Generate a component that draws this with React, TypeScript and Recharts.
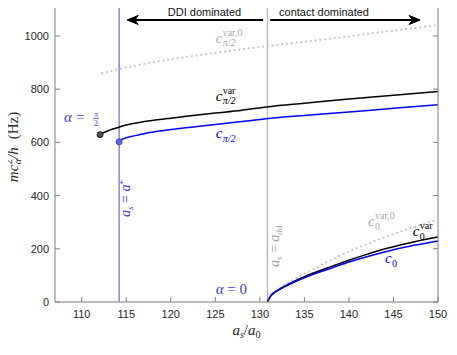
import React from "react";
import { LineChart, Line, XAxis, YAxis, ReferenceLine, ReferenceDot } from "recharts";

// axis ticks
const xTicks = [110, 115, 120, 125, 130, 135, 140, 145, 150];
const yTicks = [0, 200, 400, 600, 800, 1000];

// special scattering lengths
const aStar = 114.2;
const aDd = 130.85;

// alpha = pi/2 branch
const xPiHalf = [114.2, 114.4, 114.8, 115.4, 116.5, 117.7, 120, 122, 125, 128, 131, 135, 140, 145, 150];
const cPiHalf = [602, 609, 615, 621, 629, 637, 648, 656, 667, 678, 690, 701, 714, 728, 741];

const xVarPiHalf = [112.06, 112.5, 113, 114, 115, 116, 117.7, 120, 122, 125, 128, 131, 135, 140, 145, 150];
const cVarPiHalf = [629, 637, 644, 655, 665, 672, 681, 691, 699, 710, 721, 734, 747, 763, 777, 791];

const xVar0PiHalf = [112.3, 114, 116, 118, 120, 123, 126, 129, 132, 135, 138, 141, 144, 147, 150];
const cVar0PiHalf = [860, 874, 888, 901, 912, 927, 941, 954, 966, 978, 990, 1003, 1016, 1028, 1041];

// alpha = 0 branch
const xZero = [130.85, 131.2, 131.6, 132, 133, 134, 135, 136, 138, 140, 142, 144, 146, 148, 150];
const cZero = [0, 22, 34, 43, 61, 77, 91, 104, 127, 150, 170, 188, 204, 217, 229];
const cVarZero = [0, 22, 35, 44, 63, 80, 95, 109, 133, 157, 179, 199, 216, 231, 244];
const cVar0Zero = [0, 23, 36, 46, 68, 88, 106, 123, 158, 190, 217, 243, 267, 289, 309];

const zip = (xs: number[], ys: number[]) => xs.map((x, i) => ({ x, y: ys[i] }));

const AXIS = "#7f7f7f";
const INK = "#262626";
const BLUE = "#0000ff";
const SANS = "'Liberation Sans', Arial, Helvetica, sans-serif";
const SERIF = "'Liberation Serif', 'Times New Roman', serif";

const BottomTick = (p: any) => (
  <g>
    <line x1={p.x} y1={p.y} x2={p.x} y2={p.y - 5} stroke={AXIS} />
    <text x={p.x} y={p.y + 16} textAnchor="middle" fontSize={11} fontFamily={SANS} fill={INK}>
      {p.payload.value}
    </text>
  </g>
);
const LeftTick = (p: any) => (
  <g>
    <line x1={p.x} y1={p.y} x2={p.x + 5} y2={p.y} stroke={AXIS} />
    <text x={p.x - 6} y={p.y + 4} textAnchor="end" fontSize={11} fontFamily={SANS} fill={INK}>
      {p.payload.value}
    </text>
  </g>
);
const TopTick = (p: any) => <line x1={p.x} y1={p.y} x2={p.x} y2={p.y + 5} stroke={AXIS} />;
const RightTick = (p: any) => <line x1={p.x} y1={p.y} x2={p.x - 5} y2={p.y} stroke={AXIS} />;

const Arrow = (p: any) => {
  const { x1, y1, x2, y2 } = p;
  const len = Math.hypot(x2 - x1, y2 - y1) || 1;
  const ux = (x2 - x1) / len;
  const uy = (y2 - y1) / len;
  const L = 11;
  const W = 4.5;
  const bx = x2 - ux * L;
  const by = y2 - uy * L;
  const mx = x2 - ux * L * 0.7;
  const my = y2 - uy * L * 0.7;
  const pts = [
    [x2, y2],
    [bx - uy * W, by + ux * W],
    [mx, my],
    [bx + uy * W, by - ux * W],
  ]
    .map((q) => q.join(","))
    .join(" ");
  return (
    <g>
      <line x1={x1} y1={y1} x2={mx} y2={my} stroke="#000" strokeWidth={2} />
      <polygon points={pts} fill="#000" stroke="#000" strokeWidth={1} strokeLinejoin="miter" />
    </g>
  );
};

// text annotation anchored at a data point
const note = (key: string, x: number, y: number, draw: (cx: number, cy: number) => React.ReactNode) => (
  <ReferenceDot
    key={key}
    x={x}
    y={y}
    r={0}
    fill="none"
    stroke="none"
    ifOverflow="visible"
    label={(p: any) => <g>{draw(p.viewBox?.x ?? 0, p.viewBox?.y ?? 0)}</g>}
  />
);

const cLabel = (color: string, sup: string, sub: string, subItalic: boolean) => (cx: number, cy: number) => (
  <g fontFamily={SERIF} fill={color}>
    <text x={cx} y={cy} fontSize={15} fontStyle="italic">c</text>
    {sup && <text x={cx + 7} y={cy - 7} fontSize={10}>{sup}</text>}
    <text x={cx + 7} y={cy + 3.5} fontSize={10} fontStyle={subItalic ? "italic" : "normal"}>{sub}</text>
  </g>
);

const App: React.FC = () => {
  return (
    <div style={{ margin: -8 }}>
      <LineChart width={457} height={355} margin={{ top: 3, right: 18, bottom: 0, left: 0 }}>
        <XAxis
          dataKey="x"
          type="number"
          domain={[107, 150]}
          ticks={xTicks}
          interval={0}
          allowDataOverflow
          height={53}
          tickSize={0}
          tickMargin={0}
          tickLine={false}
          axisLine={{ stroke: AXIS }}
          tick={BottomTick}
          label={{
            content: (p: any) => {
              const vb = p.viewBox || { x: 55, y: 302, width: 383 };
              return (
                <text x={vb.x + vb.width / 2} y={vb.y + 33} textAnchor="middle" fontFamily={SERIF} fontSize={15} fill={INK}>
                  <tspan fontStyle="italic">a</tspan>
                  <tspan fontStyle="italic" fontSize={10} dy={3}>s</tspan>
                  <tspan dy={-3}>/</tspan>
                  <tspan fontStyle="italic">a</tspan>
                  <tspan fontSize={10} dy={3}>0</tspan>
                </text>
              );
            },
          }}
        />
        <XAxis
          xAxisId="top"
          orientation="top"
          type="number"
          domain={[107, 150]}
          ticks={xTicks}
          interval={0}
          allowDataOverflow
          height={1}
          tickSize={0}
          tickMargin={0}
          tickLine={false}
          axisLine={{ stroke: AXIS }}
          tick={TopTick}
        />
        <YAxis
          type="number"
          domain={[0, 1120]}
          ticks={yTicks}
          interval={0}
          allowDataOverflow
          width={55}
          tickSize={0}
          tickMargin={0}
          tickLine={false}
          axisLine={{ stroke: AXIS }}
          tick={LeftTick}
          label={{
            content: (p: any) => {
              const vb = p.viewBox || { x: 0, y: 4, width: 55, height: 298 };
              const cx = vb.x + 18;
              const cy = vb.y + vb.height / 2 - 6;
              return (
                <g transform={`rotate(-90 ${cx} ${cy})`}>
                  <text x={cx} y={cy} textAnchor="middle" fontFamily={SERIF} fontSize={15} fill={INK}>
                    <tspan fontStyle="italic">mc</tspan>
                    <tspan fontSize={10} dx={0.5} dy={-6}>2</tspan>
                    <tspan fontSize={10} fontStyle="italic" dx={-5} dy={9}>α</tspan>
                    <tspan fontStyle="italic" dy={-3}>/h</tspan>
                    <tspan dx={8}>(Hz)</tspan>
                  </text>
                </g>
              );
            },
          }}
        />
        <YAxis
          yAxisId="right"
          orientation="right"
          type="number"
          domain={[0, 1120]}
          ticks={yTicks}
          interval={0}
          allowDataOverflow
          width={1}
          tickSize={0}
          tickMargin={0}
          tickLine={false}
          axisLine={{ stroke: AXIS }}
          tick={RightTick}
        />

        <ReferenceLine x={aStar} stroke="#7272e2" strokeWidth={1.3} />
        <ReferenceLine x={aDd} stroke="#b4b4b4" strokeWidth={1.3} />

        <Line data={zip(xVar0PiHalf, cVar0PiHalf)} dataKey="y" type="monotone" stroke="#c6c6c6" strokeWidth={2.2}
          strokeDasharray="0.1 4.7" strokeLinecap="round" dot={false} activeDot={false} isAnimationActive={false} />
        <Line data={zip(xVarPiHalf, cVarPiHalf)} dataKey="y" type="monotone" stroke="#000" strokeWidth={1.5}
          dot={false} activeDot={false} isAnimationActive={false} />
        <Line data={zip(xPiHalf, cPiHalf)} dataKey="y" type="monotone" stroke={BLUE} strokeWidth={1.5}
          dot={false} activeDot={false} isAnimationActive={false} />
        <Line data={zip(xZero, cVar0Zero)} dataKey="y" type="monotone" stroke="#c6c6c6" strokeWidth={2.2}
          strokeDasharray="0.1 4.7" strokeLinecap="round" dot={false} activeDot={false} isAnimationActive={false} />
        <Line data={zip(xZero, cVarZero)} dataKey="y" type="monotone" stroke="#000" strokeWidth={1.5}
          dot={false} activeDot={false} isAnimationActive={false} />
        <Line data={zip(xZero, cZero)} dataKey="y" type="monotone" stroke={BLUE} strokeWidth={1.5}
          dot={false} activeDot={false} isAnimationActive={false} />

        <ReferenceDot x={xVarPiHalf[0]} y={cVarPiHalf[0]} r={3} fill="#555" stroke="#1a1a1a" strokeWidth={1} />
        <ReferenceDot x={xPiHalf[0]} y={cPiHalf[0]} r={3} fill="#5b67e6" stroke="#3a46d6" strokeWidth={1} />

        <ReferenceLine segment={[{ x: 130.37, y: 1060 }, { x: 115.1, y: 1060 }]} shape={Arrow} ifOverflow="visible" />
        <ReferenceLine segment={[{ x: 131.16, y: 1060 }, { x: 148.0, y: 1060 }]} shape={Arrow} ifOverflow="visible" />

        {note("ddi", 123.78, 1075, (cx, cy) => (
          <text x={cx} y={cy} textAnchor="middle" fontFamily={SANS} fontSize={11} fill="#111">DDI dominated</text>
        ))}
        {note("contact", 137.2, 1075, (cx, cy) => (
          <text x={cx} y={cy} textAnchor="middle" fontFamily={SANS} fontSize={11} fill="#111">contact dominated</text>
        ))}

        {note("alphaPi", 108.0, 675, (cx, cy) => (
          <g fontFamily={SERIF} fill="#3c3cf0">
            <text x={cx} y={cy} fontSize={15} fontStyle="italic">α</text>
            <text x={cx + 12} y={cy} fontSize={15}>=</text>
            <text x={cx + 32} y={cy - 5.5} fontSize={8} textAnchor="middle">π</text>
            <line x1={cx + 29} x2={cx + 35} y1={cy - 4} y2={cy - 4} stroke="#3c3cf0" strokeWidth={0.8} />
            <text x={cx + 32} y={cy + 3.5} fontSize={8} textAnchor="middle">2</text>
          </g>
        ))}
        {note("aStar", 115.4, 389, (cx, cy) => (
          <g transform={`rotate(-90 ${cx} ${cy})`}>
            <text x={cx} y={cy} textAnchor="middle" fontFamily={SERIF} fontSize={14} fill="#3a3ad8">
              <tspan fontStyle="italic">a</tspan>
              <tspan fontStyle="italic" fontSize={9} dy={3}>s</tspan>
              <tspan dy={-3}> = </tspan>
              <tspan fontStyle="italic">a</tspan>
              <tspan fontSize={9} dy={-4}>*</tspan>
            </text>
          </g>
        ))}
        {note("aDd", 132.15, 209, (cx, cy) => (
          <g transform={`rotate(-90 ${cx} ${cy})`}>
            <text x={cx} y={cy} textAnchor="middle" fontFamily={SERIF} fontSize={14} fill="#a0a0a0">
              <tspan fontStyle="italic">a</tspan>
              <tspan fontStyle="italic" fontSize={9} dy={3}>s</tspan>
              <tspan dy={-3}> = </tspan>
              <tspan fontStyle="italic">a</tspan>
              <tspan fontStyle="italic" fontSize={9} dy={3}>dd</tspan>
            </text>
          </g>
        ))}
        {note("alpha0", 125.04, 31.5, (cx, cy) => (
          <text x={cx} y={cy} fontFamily={SERIF} fontSize={15} fill="#3c3cf0">
            <tspan fontStyle="italic">α</tspan>
            <tspan> = 0</tspan>
          </text>
        ))}

        {note("lVar0Pi", 125.04, 975, cLabel("#a8a8a8", "var,0", "π/2", true))}
        {note("lVarPi", 125.04, 757, cLabel("#000", "var", "π/2", true))}
        {note("lPi", 125.04, 615, cLabel(BLUE, "", "π/2", true))}
        {note("lVar0Zero", 142.14, 284, cLabel("#a8a8a8", "var,0", "0", false))}
        {note("lVarZero", 147.16, 247, cLabel("#000", "var", "0", false))}
        {note("lZero", 144.05, 145, cLabel(BLUE, "", "0", false))}
      </LineChart>
    </div>
  );
};

export default App;
